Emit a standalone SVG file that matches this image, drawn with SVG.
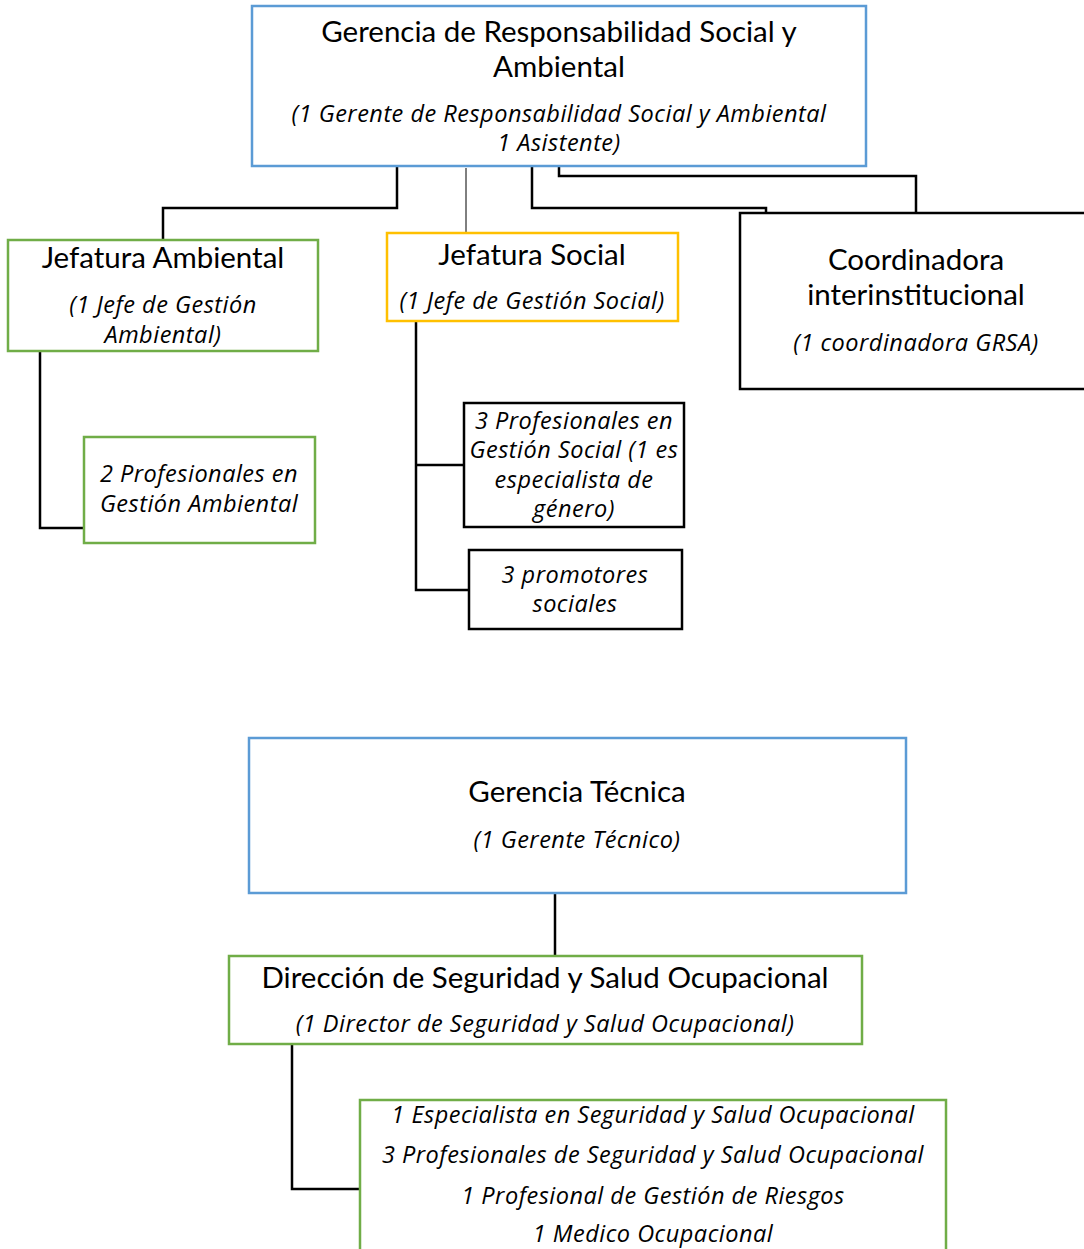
<svg xmlns="http://www.w3.org/2000/svg" width="1084" height="1249" viewBox="0 0 1084 1249">
<style>
.t{font-family:Lato,"Open Sans","Liberation Sans",sans-serif;fill:#000;text-anchor:middle}
.h{font-size:29.5px}
.i{font-family:"Open Sans",Lato,"Liberation Sans",sans-serif;font-size:23.5px;font-style:italic;letter-spacing:0.5px}
.blue{fill:#fff;stroke:#5B9BD5;stroke-width:2.5}
.green{fill:#fff;stroke:#70AD47;stroke-width:2.5}
.yellow{fill:#fff;stroke:#FFC000;stroke-width:2.5}
.black{fill:#fff;stroke:#000;stroke-width:2.5}
.c{fill:none;stroke:#000;stroke-width:2.5}
</style>
<rect width="1084" height="1249" fill="#fff"/>
<g id="connectors">
<path class="c" d="M397,166 V208 H163 V240"/>
<path d="M466,168 V232" fill="none" stroke="#000" stroke-width="1"/>
<path class="c" d="M532,166 V208 H766 V213"/>
<path class="c" d="M559,166 V176 H916 V213"/>
<path class="c" d="M40,351 V528 H84"/>
<path class="c" d="M416,321 V590 H469 M416,465 H464"/>
<path class="c" d="M555,893 V956"/>
<path class="c" d="M292,1044 V1189 H360"/>
</g>
<g id="gerencia-rsa">
<rect class="blue" x="252" y="6" width="614" height="160"/>
<text class="t h" x="559" y="42">Gerencia de Responsabilidad Social y</text>
<text class="t h" x="559" y="77">Ambiental</text>
<text class="t i" x="559" y="122">(1 Gerente de Responsabilidad Social y Ambiental</text>
<text class="t i" x="559" y="151">1 Asistente)</text>
</g>
<g id="jefatura-ambiental">
<rect class="green" x="8" y="240" width="310" height="111"/>
<text class="t h" x="163" y="268">Jefatura Ambiental</text>
<text class="t i" x="163" y="313">(1 Jefe de Gestión</text>
<text class="t i" x="163" y="343">Ambiental)</text>
</g>
<g id="prof-ambiental">
<rect class="green" x="84" y="437" width="231" height="106"/>
<text class="t i" x="199" y="482">2 Profesionales en</text>
<text class="t i" x="199" y="512">Gestión Ambiental</text>
</g>
<g id="jefatura-social">
<rect class="yellow" x="387" y="233" width="291" height="88"/>
<text class="t h" x="532" y="265">Jefatura Social</text>
<text class="t i" x="532" y="309">(1 Jefe de Gestión Social)</text>
</g>
<g id="prof-social">
<rect class="black" x="464" y="403" width="220" height="124"/>
<text class="t i" x="574" y="429">3 Profesionales en</text>
<text class="t i" x="574" y="458">Gestión Social (1 es</text>
<text class="t i" x="574" y="488">especialista de</text>
<text class="t i" x="574" y="517">género)</text>
</g>
<g id="promotores">
<rect class="black" x="469" y="550" width="213" height="79"/>
<text class="t i" x="575" y="583">3 promotores</text>
<text class="t i" x="575" y="612">sociales</text>
</g>
<g id="coordinadora">
<rect class="black" x="740" y="213" width="360" height="176"/>
<text class="t h" x="916" y="270">Coordinadora</text>
<text class="t h" x="916" y="305">interinstitucional</text>
<text class="t i" x="916" y="351">(1 coordinadora GRSA)</text>
</g>
<g id="gerencia-tecnica">
<rect class="blue" x="249" y="738" width="657" height="155"/>
<text class="t h" x="577" y="802">Gerencia Técnica</text>
<text class="t i" x="577" y="848">(1 Gerente Técnico)</text>
</g>
<g id="direccion-sso">
<rect class="green" x="229" y="956" width="633" height="88"/>
<text class="t h" x="545" y="988">Dirección de Seguridad y Salud Ocupacional</text>
<text class="t i" x="545" y="1032">(1 Director de Seguridad y Salud Ocupacional)</text>
</g>
<g id="personal-sso">
<rect class="green" x="360" y="1100" width="586" height="170"/>
<text class="t i" x="653" y="1123">1 Especialista en Seguridad y Salud Ocupacional</text>
<text class="t i" x="653" y="1163">3 Profesionales de Seguridad y Salud Ocupacional</text>
<text class="t i" x="653" y="1204">1 Profesional de Gestión de Riesgos</text>
<text class="t i" x="653" y="1242">1 Medico Ocupacional</text>
</g>
</svg>
